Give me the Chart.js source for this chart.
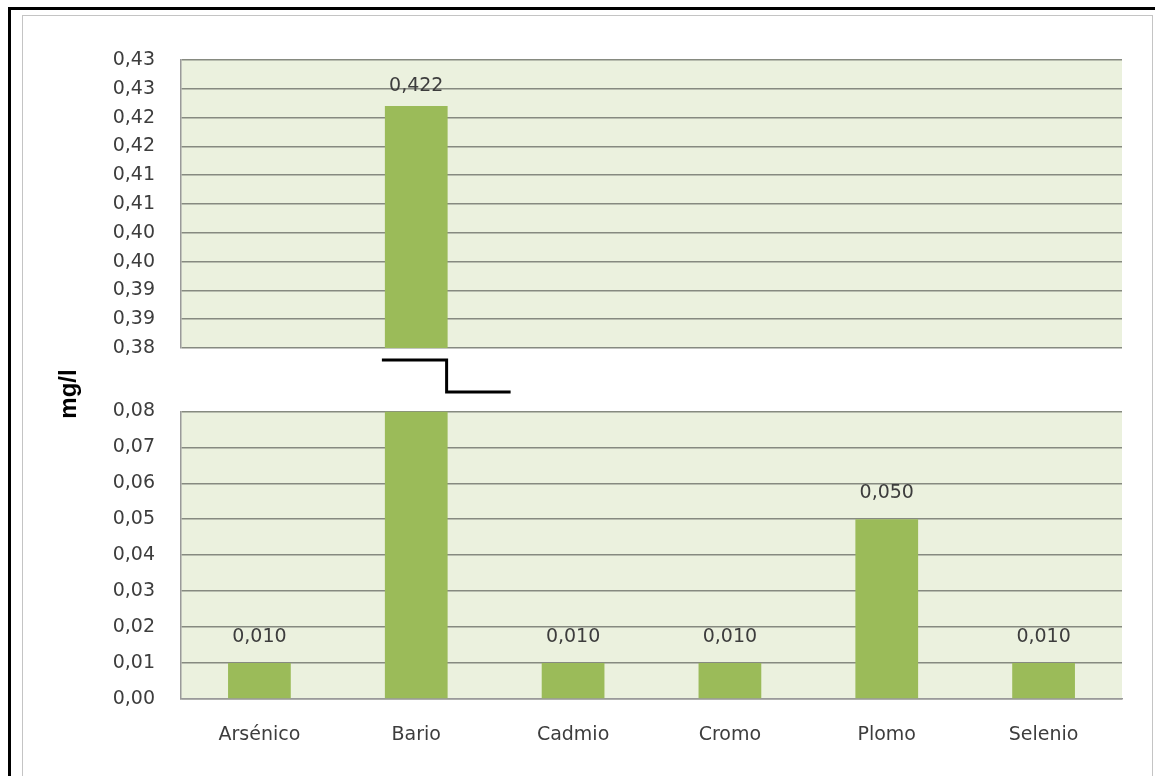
<!DOCTYPE html>
<html>
<head>
<meta charset="utf-8">
<script src="https://cdn.jsdelivr.net/npm/chart.js@4.4.1/dist/chart.umd.min.js"></script>
<style>
  html, body { margin: 0; padding: 0; background: #fff; overflow: hidden; }
  body { width: 1155px; height: 776px; position: relative; }
  #outer { position: absolute; left: 8px; top: 7px; width: 1200px; height: 900px; border: 3px solid #000; }
  #inner { position: absolute; left: 22px; top: 15px; width: 1129px; height: 900px; border: 1px solid #c4c4c4; }
  canvas { position: absolute; left: 0; }
  #top { top: 0; }
  #bottom { top: 374px; }
  #ylabel {
    position: absolute; left: 18px; top: 380px; width: 100px; height: 28px;
    line-height: 28px; text-align: center; transform: rotate(-90deg);
    font: bold 24px "Liberation Sans", Arial, sans-serif; color: #000;
  }
</style>
</head>
<body>
<div id="outer"></div>
<div id="inner"></div>
<canvas id="top" width="1155" height="400"></canvas>
<canvas id="bottom" width="1155" height="402"></canvas>
<div id="ylabel">mg/l</div>
<script>
// data
const elements = ["Arsénico", "Bario", "Cadmio", "Cromo", "Plomo", "Selenio"];
const concentrations = [0.010, 0.422, 0.010, 0.010, 0.050, 0.010];

// broken axis: two value ranges
const upperMin = 0.38, upperMax = 0.43;
const lowerMin = 0.00, lowerMax = 0.08;
const upperTicks = ["0,38", "0,39", "0,39", "0,40", "0,40", "0,41", "0,41", "0,42", "0,42", "0,43", "0,43"];
const lowerTicks = ["0,00", "0,01", "0,02", "0,03", "0,04", "0,05", "0,06", "0,07", "0,08"];

const barColor = "#9BBB59";
const plotBg = "#EBF1DE";
const gridColor = "#868a80";
const textColor = "#3d3d3d";
const fontFamily = "'DejaVu Sans', sans-serif";

function fmt(v) {
  return v.toFixed(3).replace(".", ",");
}

const plotBackground = {
  id: "plotBackground",
  beforeDraw(chart) {
    const a = chart.chartArea;
    const ctx = chart.ctx;
    ctx.save();
    ctx.fillStyle = plotBg;
    ctx.fillRect(a.left, a.top, a.right - a.left, a.bottom - a.top);
    ctx.restore();
  }
};

const valueLabels = {
  id: "valueLabels",
  afterDatasetsDraw(chart, args, opts) {
    const ctx = chart.ctx;
    const meta = chart.getDatasetMeta(0);
    ctx.save();
    ctx.font = "19px " + fontFamily;
    ctx.fillStyle = textColor;
    ctx.textAlign = "center";
    ctx.textBaseline = "middle";
    meta.data.forEach((bar, i) => {
      if (!opts.show[i]) return;
      ctx.fillText(fmt(concentrations[i]), bar.x, bar.y - opts.offset);
    });
    ctx.restore();
  }
};

// the step line between the two panels, at the cut bar
const breakMark = {
  id: "breakMark",
  afterDraw(chart) {
    const meta = chart.getDatasetMeta(0);
    const i = concentrations.findIndex(v => v > lowerMax);
    if (i < 0) return;
    const bar = meta.data[i];
    const left = bar.x - bar.width / 2;
    const right = bar.x + bar.width / 2;
    const y0 = chart.chartArea.bottom + 12;
    const y1 = chart.chartArea.bottom + 44;
    const ctx = chart.ctx;
    ctx.save();
    ctx.strokeStyle = "#000";
    ctx.lineWidth = 3;
    ctx.beginPath();
    ctx.moveTo(left - 3, y0);
    ctx.lineTo(right - 1, y0);
    ctx.lineTo(right - 1, y1);
    ctx.lineTo(right + 63, y1);
    ctx.stroke();
    ctx.restore();
  }
};

function valueScale(min, max, labels) {
  return {
    min: min,
    max: max,
    beginAtZero: false,
    afterBuildTicks(scale) {
      scale.ticks = labels.map((_, i) => ({ value: min + i * (max - min) / (labels.length - 1) }));
    },
    afterFit(scale) { scale.width = 181; },
    border: { display: true, color: "#9a9a9a", width: 1.5 },
    grid: { color: gridColor, lineWidth: 1.6, drawTicks: false },
    ticks: {
      padding: 26,
      color: textColor,
      font: { family: fontFamily, size: 19 },
      callback: (v, i) => labels[i]
    }
  };
}

Chart.defaults.animation = false;

new Chart("top", {
  type: "bar",
  data: {
    labels: elements,
    datasets: [{
      data: concentrations.map(v => v >= upperMin ? v : null),
      backgroundColor: barColor,
      barPercentage: 0.4,
      categoryPercentage: 1
    }]
  },
  options: {
    responsive: false,
    layout: { padding: { top: 60, bottom: 52, right: 33, left: 0 } },
    plugins: {
      legend: { display: false },
      tooltip: { enabled: false },
      valueLabels: { show: concentrations.map(v => v >= upperMin), offset: 20 }
    },
    scales: {
      x: { display: false },
      y: valueScale(upperMin, upperMax, upperTicks)
    }
  },
  plugins: [plotBackground, valueLabels, breakMark]
});

new Chart("bottom", {
  type: "bar",
  data: {
    labels: elements,
    datasets: [{
      data: concentrations.map(v => Math.min(v, lowerMax)),
      backgroundColor: barColor,
      barPercentage: 0.4,
      categoryPercentage: 1
    }]
  },
  options: {
    responsive: false,
    layout: { padding: { top: 37, bottom: 0, right: 33, left: 0 } },
    plugins: {
      legend: { display: false },
      tooltip: { enabled: false },
      valueLabels: { show: concentrations.map(v => v <= lowerMax), offset: 26 }
    },
    scales: {
      x: {
        afterFit(scale) { scale.height = 77; },
        border: { display: true, color: "#9a9a9a", width: 1.5 },
        grid: { display: false, drawTicks: false },
        ticks: {
          padding: 25,
          color: textColor,
          font: { family: fontFamily, size: 19 }
        }
      },
      y: valueScale(lowerMin, lowerMax, lowerTicks)
    }
  },
  plugins: [plotBackground, valueLabels]
});
</script>
</body>
</html>
